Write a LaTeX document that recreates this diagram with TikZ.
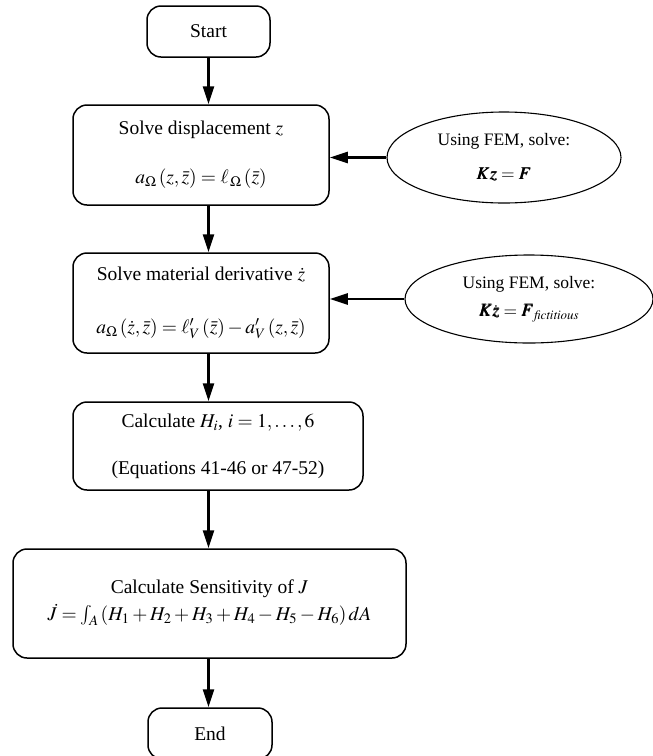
\documentclass[tikz,border=0pt]{standalone}
\usepackage{amsmath}
\usepackage{mathptmx}
\usepackage{bm}
\usepackage{fontspec}
\setmainfont{Liberation Serif}
\usetikzlibrary{shapes.geometric,arrows.meta}

\begin{document}
\begin{tikzpicture}[x=1pt, y=-1pt,
  font=\fontsize{19.5}{23}\selectfont,
  stepbox/.style={draw, line width=1.5pt, rounded corners=14pt, inner sep=0pt, align=center},
  femoval/.style={draw, ellipse, line width=1.1pt, inner sep=0pt, align=center,
    font=\fontsize{17.5}{21}\selectfont},
  flow/.style={line width=2.4pt, -{Triangle[length=18pt, width=11pt]}}]

\useasboundingbox (0,0) rectangle (653,756);

% main column
\node (start) at (208.5,31.5) [stepbox, minimum width=123pt, minimum height=51pt] {Start};
\node (disp) at (201,155) [stepbox, minimum width=256pt, minimum height=100pt]
  {Solve displacement $z$\\[26pt] $a_{\Omega}\left(z,\bar{z}\right)=\ell_{\,\Omega}\left(\bar{z}\right)$};
\node (matder) at (201,303) [stepbox, minimum width=256pt, minimum height=100pt]
  {Solve material derivative $\dot{z}$\\[30pt] $a_{\Omega}\left(\dot{z},\bar{z}\right)=\ell'_{V}\left(\bar{z}\right)-a'_{V}\left(z,\bar{z}\right)$};
\node (calch) at (218,446) [stepbox, minimum width=290pt, minimum height=88pt]
  {Calculate $H_i$, $i=1,\ldots,6$\\[24pt] (Equations 41-46 or 47-52)};
\node (sens) at (209.5,603.5) [stepbox, minimum width=393pt, minimum height=109pt]
  {Calculate Sensitivity of $J$\\[4pt] $\dot{J}=\int_{A}\left(H_1+H_2+H_3+H_4-H_5-H_6\right)dA$\\[-16pt]\mbox{}};
\node (stop) at (210,733.5) [stepbox, minimum width=124pt, minimum height=51pt] {End};

% FEM solves
\node (fem1) at (504,157.5) [femoval, minimum width=234pt, minimum height=91pt]
  {Using FEM, solve:\\[13pt] $\bm{Kz}=\bm{F}$};
\node (fem2) at (529,299) [femoval, minimum width=248pt, minimum height=88pt]
  {Using FEM, solve:\\[7pt] $\bm{K\dot{z}}=\bm{F}_{\mathit{fictitious}}$};

% arrows
\draw [flow] (start.south) -- (start.south |- disp.north);
\draw [flow] (start.south |- disp.south) -- (start.south |- matder.north);
\draw [flow] (start.south |- matder.south) -- (start.south |- calch.north);
\draw [flow] (start.south |- calch.south) -- (start.south |- sens.north);
\draw [flow] (start.south |- sens.south) -- (start.south |- stop.north);
\draw [flow] (fem1.west) -- (fem1.west -| disp.east);
\draw [flow] (fem2.west) -- (fem2.west -| matder.east);

\end{tikzpicture}
\end{document}
